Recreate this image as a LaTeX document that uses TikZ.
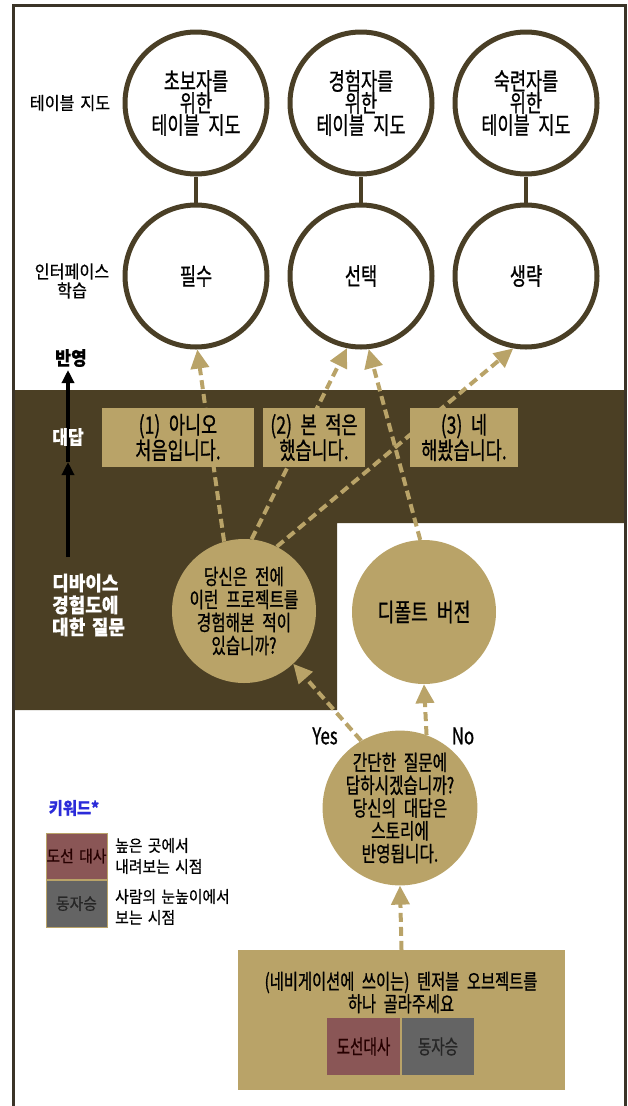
\documentclass[tikz,border=0pt]{standalone}
\usepackage{fontspec}
\usetikzlibrary{arrows.meta}
\setmainfont[FakeStretch=0.73,WordSpace=2.2,FakeBold=0.8]{Noto Sans CJK KR}
\newfontfamily\krwide[FakeStretch=0.9,WordSpace=1.6,FakeBold=0.5]{Noto Sans CJK KR}
\definecolor{bandc}{HTML}{4B3F24}
\definecolor{goldc}{HTML}{B9A368}
\definecolor{ringc}{HTML}{4A3F26}
\definecolor{framec}{HTML}{3B3428}
\definecolor{rosec}{HTML}{8A5656}
\definecolor{slatec}{HTML}{646464}
\definecolor{kwblue}{HTML}{2B2BD9}
\pgfdeclarelayer{bgzero}
\pgfdeclarelayer{bgone}
\pgfsetlayers{bgzero,bgone,main}
\tikzset{
 ring/.style={circle, draw=ringc, line width=5pt, minimum size=142pt, inner sep=0pt, align=center, text=black, font=\fontsize{24}{22}\selectfont},
 ball/.style={circle, fill=goldc, minimum size=144pt, inner sep=0pt, align=center, text=black},
 ans/.style={fill=goldc, inner sep=0pt, align=center, minimum height=59pt, text=black, font=\fontsize{24}{23}\selectfont},
 flow/.style={draw=goldc, line width=4pt, dash pattern=on 9pt off 5pt, -{Triangle[width=18pt,length=19pt]}},
 link/.style={draw=ringc, line width=4pt},
 side/.style={align=center, font=\krwide\fontsize{18}{19}\selectfont},
 wlab/.style={text=white, align=left, font=\krwide\bfseries\fontsize{20}{22}\selectfont},
 keybox/.style={draw=goldc, line width=0.8pt, inner sep=0pt, minimum width=61pt, font=\krwide\fontsize{16.5}{16}\selectfont},
 legtxt/.style={align=left, anchor=west, inner sep=0pt, font=\krwide\fontsize{16.5}{21}\selectfont},
 pick/.style={inner sep=0pt, minimum width=73pt, minimum height=57pt, font=\fontsize{20}{20}\selectfont},
 yn/.style={inner sep=0pt, font=\fontsize{23}{23}\selectfont},
}
\begin{document}
\begin{tikzpicture}[x=1pt,y=-1pt]
\useasboundingbox (0,0) rectangle (628,1106);

% top circles
\node[ring] (t1) at (196,103) {초보자를\\위한\\테이블 지도};
\node[ring] (t2) at (361,103) {경험자를\\위한\\테이블 지도};
\node[ring] (t3) at (526,103) {숙련자를\\위한\\테이블 지도};
\node[ring] (m1) at (196,276) {필수};
\node[ring] (m2) at (361,276) {선택};
\node[ring] (m3) at (526,276) {생략};

% side labels
\node[side] (l1) at (70,103) {테이블 지도};
\node[side] (l2) at (72,281) {인터페이스\\학습};
\node[font=\krwide\bfseries\fontsize{19}{19}\selectfont] (l3) at (71,358) {반영};
\node[text=white, font=\krwide\bfseries\fontsize{19}{19}\selectfont] (l4) at (68,437) {대답};
\node[wlab, anchor=west, inner sep=0pt] (l5) at (52,605) {디바이스\\경험도에\\대한 질문};

% answer boxes
\node[ans, minimum width=152pt] (a1) at (178,437.5) {(1) 아니오\\처음입니다.};
\node[ans, minimum width=102pt] (a2) at (314,437.5) {(2) 본 적은\\했습니다.};
\node[ans, minimum width=108pt] (a3) at (464,437.5) {(3) 네\\해봤습니다.};

% gold circles
\node[ball, font=\fontsize{21.5}{23}\selectfont] (q1) at (244,611) {당신은 전에\\이런 프로젝트를\\경험해본 적이\\있습니까?};
\node[ball, font=\fontsize{25}{24}\selectfont] (d) at (424,612) {디폴트 버전};
\node[ball, font=\fontsize{21.5}{22.8}\selectfont] (q0) at (400,808) {간단한 질문에\\답하시겠습니까?\\당신의 대답은\\스토리에\\반영됩니다.};

\node[yn] (yes) at (325,736) {Yes};
\node[yn] (no) at (463,736) {No};

% bottom box
\node[fill=goldc, minimum width=327pt, minimum height=140pt, inner sep=0pt] (b) at (401.5,1020) {};
\node[align=center, inner sep=0pt, font=\fontsize{21}{21}\selectfont] (bt) at (401,992.5) {(네비게이션에 쓰이는) 텐저블 오브젝트를\\하나 골라주세요};
\node[pick, fill=rosec, text=black!85!red] (p1) at (363.5,1046.5) {도선대사};
\node[pick, fill=slatec, minimum width=72pt, text=black!85] (p2) at (438,1046.5) {동자승};

% legend
\node[text=kwblue, font=\krwide\bfseries\fontsize{17}{17}\selectfont] (kw) at (74,808) {키워드*};
\node[keybox, fill=rosec, minimum height=46pt, text=black!85!red] (k1) at (76.5,856) {도선 대사};
\node[keybox, fill=slatec, minimum height=47pt, text=black!85] (k2) at (76.5,903.5) {동자승};
\node[legtxt] (k1t) at (115,856) {높은 곳에서\\내려보는 시점};
\node[legtxt] (k2t) at (115,907) {사람의 눈높이에서\\보는 시점};

\coordinate (vb) at (68,557);
\coordinate (vm) at (68,462);
\coordinate (vt) at (68,370);

\begin{pgfonlayer}{bgzero}
\fill[bandc] (14,390) -- (624,390) -- (624,523) -- (337,523) -- (337,710) -- (14,710) -- cycle;
\draw[framec, line width=3pt] (13,1106) -- (13,5) -- (625,5) -- (625,1106);
\end{pgfonlayer}

\begin{pgfonlayer}{bgone}
\draw[link] (t1) -- (m1);
\draw[link] (t2) -- (m2);
\draw[link] (t3) -- (m3);
\draw[line width=3.5pt, -{Triangle[width=12pt,length=13pt]}] (vb) -- (vm);
\draw[line width=3.5pt, -{Triangle[width=12pt,length=13pt]}] (vm) -- (vt);
\draw[flow] (q1.106) -- (m1.-89);
\draw[flow] (q1.84) -- (m2.-101);
\draw[flow] (q1.63) -- (m3.-100);
\draw[flow] (d.93) -- (m2.-84);
\draw[flow] (q0.120) -- (q1.-47);
\draw[flow] (q0.70.6) -- (d.south);
\draw[flow] (b.north) -- (q0.south);
\end{pgfonlayer}
\end{tikzpicture}
\end{document}
